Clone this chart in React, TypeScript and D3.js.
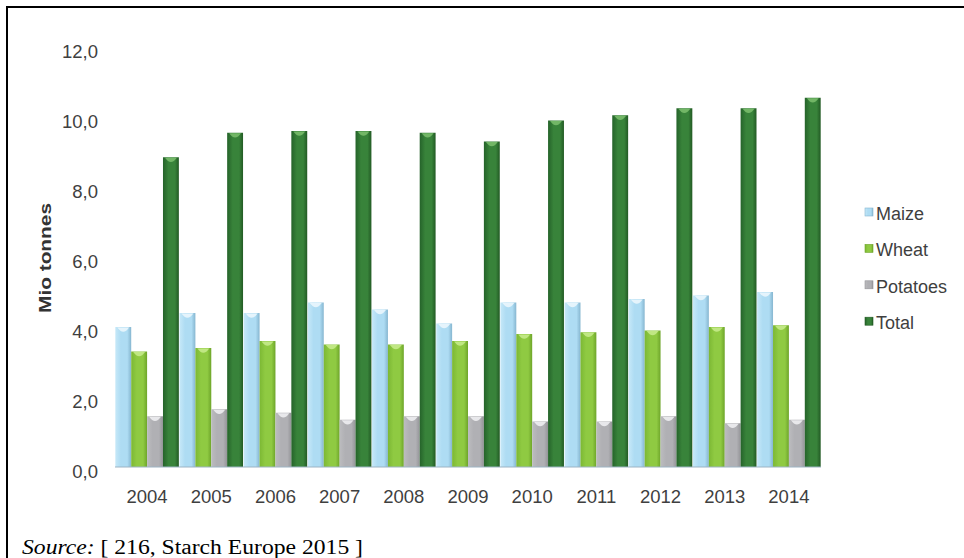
import React from "react";
import * as d3 from "d3";

const years = ["2004", "2005", "2006", "2007", "2008", "2009", "2010", "2011", "2012", "2013", "2014"];
const seriesNames = ["Maize", "Wheat", "Potatoes", "Total"];
const maize = [4.0, 4.4, 4.4, 4.7, 4.5, 4.1, 4.7, 4.7, 4.8, 4.9, 5.0];
const wheat = [3.3, 3.4, 3.6, 3.5, 3.5, 3.6, 3.8, 3.85, 3.9, 4.0, 4.05];
const potatoes = [1.45, 1.65, 1.55, 1.35, 1.45, 1.45, 1.3, 1.3, 1.45, 1.25, 1.35];
const total = [8.85, 9.55, 9.6, 9.6, 9.55, 9.3, 9.9, 10.05, 10.25, 10.25, 10.55];
const yTicks = [0, 2, 4, 6, 8, 10, 12];

const seriesValues: number[][] = [maize, wheat, potatoes, total];

const palette: Record<string, { edgeL: string; mid: string; edgeR: string; cap: string }> = {
  Maize: { edgeL: "#c6e8f8", mid: "#aedcf3", edgeR: "#86b6d0", cap: "#eef8fd" },
  Wheat: { edgeL: "#7cb834", mid: "#8fca42", edgeR: "#6ea52a", cap: "#c9ec8e" },
  Potatoes: { edgeL: "#bcbcbf", mid: "#b0b0b4", edgeR: "#949498", cap: "#f2f2f4" },
  Total: { edgeL: "#25632a", mid: "#38833a", edgeR: "#225a24", cap: "#7cbf6e" },
};

export default function App() {
  const W = 964;
  const H = 558;
  const x0 = d3.scaleBand<string>().domain(years).range([115, 821]).paddingInner(0.01).paddingOuter(0.005);
  const x1 = d3.scaleBand<string>().domain(seriesNames).range([0, x0.bandwidth()]).padding(0);
  const y = d3.scaleLinear().domain([0, 12]).range([467, 47]);
  const fmt = (v: number) => d3.format(".1f")(v).replace(".", ",");
  const font = "'Liberation Sans', Arial, sans-serif";
  const textColor = "#3f3f3f";

  return (
    <svg width={W} height={H} style={{ position: "absolute", left: 0, top: 0, background: "#fff" }}>
      <defs>
        {seriesNames.map((s) => (
          <linearGradient key={s} id={`g-${s}`} x1="0" x2="1" y1="0" y2="0">
            <stop offset="0" stopColor={palette[s].edgeL} />
            <stop offset="0.35" stopColor={palette[s].mid} />
            <stop offset="0.75" stopColor={palette[s].mid} />
            <stop offset="1" stopColor={palette[s].edgeR} />
          </linearGradient>
        ))}
      </defs>
      <rect x={0} y={0} width={W} height={H} fill="#fff" />
      {/* frame */}
      <path d={`M7,${H} L7,7 L${W},7`} fill="none" stroke="#000" strokeWidth={2} />

      {/* y ticks */}
      {yTicks.map((t) => (
        <text key={t} x={98} y={y(t) + 4} textAnchor="end" dominantBaseline="central" fontFamily={font} fontSize={18.5} fill={textColor}>
          {fmt(t)}
        </text>
      ))}
      <text
        transform={`translate(51,258) rotate(-90)`}
        textAnchor="middle"
        fontFamily={font}
        fontWeight="bold"
        fontSize={17}
        fill="#333"
        textLength={110}
        lengthAdjust="spacingAndGlyphs"
      >
        Mio tonnes
      </text>

      {/* bars */}
      {years.map((yr, i) => (
        <g key={yr} transform={`translate(${x0(yr)},0)`}>
          {seriesNames.map((s, k) => {
            const v = seriesValues[k][i];
            const bx = x1(s) as number;
            const bw = x1.bandwidth();
            const top = y(v);
            return (
              <g key={s}>
                <rect x={bx} y={top} width={bw} height={y(0) - top} fill={`url(#g-${s})`} />
                <path
                  d={`M${bx + 2},${top + 0.5} L${bx + bw - 2},${top + 0.5} Q${bx + bw / 2},${top + 9} ${bx + 2},${top + 0.5} Z`}
                  fill={palette[s].cap}
                  opacity={0.85}
                />
              </g>
            );
          })}
        </g>
      ))}
      <line x1={115} x2={821} y1={y(0)} y2={y(0)} stroke="#9db4c4" strokeWidth={1} />

      {/* x labels */}
      {years.map((yr) => (
        <text key={yr} x={(x0(yr) as number) + x0.bandwidth() / 2} y={503} textAnchor="middle" fontFamily={font} fontSize={18.5} fill={textColor}>
          {yr}
        </text>
      ))}

      {/* legend */}
      {seriesNames.map((s, k) => {
        const base = 220 + k * 36.4;
        return (
          <g key={s}>
            <rect x={865} y={base - 12} width={8} height={8} fill={`url(#g-${s})`} stroke={palette[s].edgeR} strokeWidth={0.6} />
            <text x={876} y={base} fontFamily={font} fontSize={18} fill={textColor}>
              {s}
            </text>
          </g>
        );
      })}

      {/* source */}
      <text
        x={22}
        y={554}
        fontFamily="'Liberation Serif', 'Times New Roman', serif"
        fontSize={20}
        fill="#000"
        textLength={341}
        lengthAdjust="spacingAndGlyphs"
      >
        <tspan fontStyle="italic">Source:</tspan> [ 216, Starch Europe 2015 ]
      </text>
    </svg>
  );
}
